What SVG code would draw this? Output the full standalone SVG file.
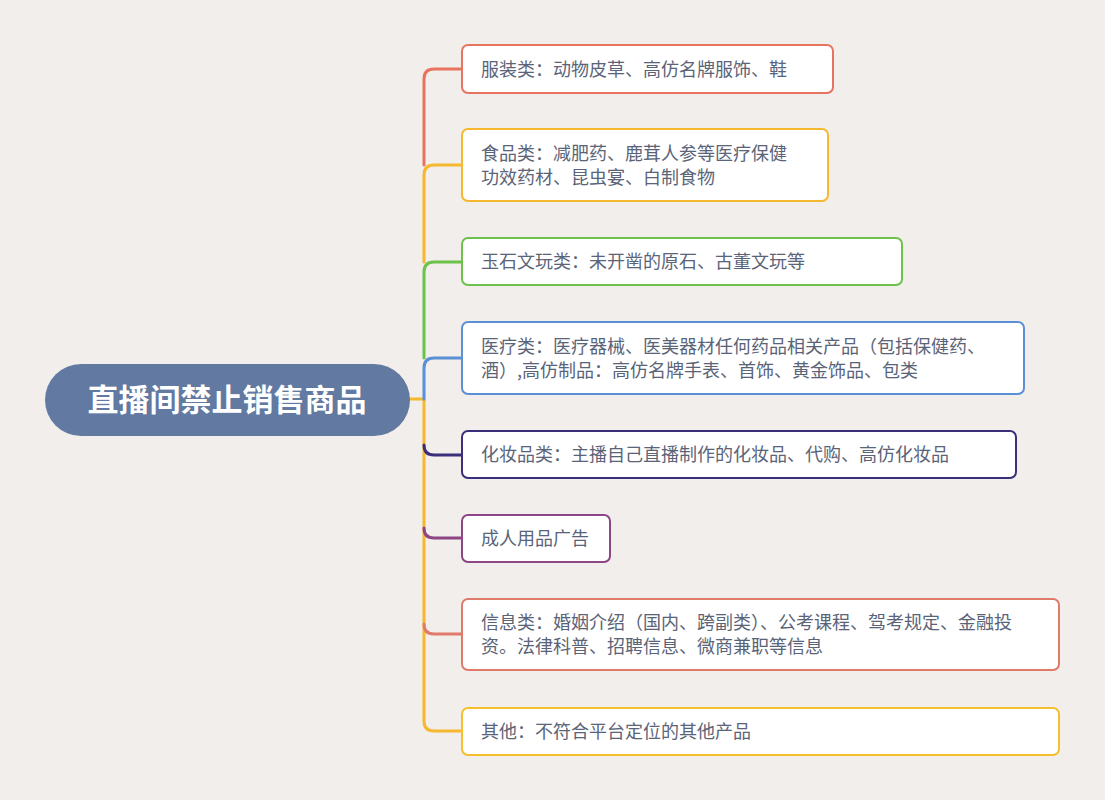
<svg xmlns="http://www.w3.org/2000/svg" width="1105" height="800" viewBox="0 0 1105 800">
<style>
.b{fill:#fff;stroke-width:2}
.t{font-family:"Noto Sans CJK SC",sans-serif;font-size:18px;fill:#5a6478}
.c{fill:none;stroke-width:3;stroke-linecap:round;stroke-linejoin:round}
</style>
<rect width="1105" height="800" fill="#f1eeeb"/>
<g id="connectors">
<path class="c" stroke="#f5b82e" d="M410 399H424V721Q424 731 434 731H462"/>
<path class="c" stroke="#e8735f" d="M424 165V79Q424 69 434 69H462"/>
<path class="c" stroke="#f5b82e" d="M424 262V175Q424 165 434 165H462"/>
<path class="c" stroke="#6cc24a" d="M424 358V272Q424 262 434 262H462"/>
<path class="c" stroke="#5b8fd6" d="M424 399V368Q424 358 434 358H462"/>
<path class="c" stroke="#3b2f7a" d="M424 445Q424 455 434 455H462"/>
<path class="c" stroke="#8e4585" d="M424 528Q424 538 434 538H462"/>
<path class="c" stroke="#e07a6a" d="M424 624Q424 634 434 634H462"/>
</g>
<g id="center"><rect x="45" y="364" width="365" height="72" rx="36" fill="#6279a1"/><text x="227" y="411" text-anchor="middle" font-family="Noto Sans CJK SC,sans-serif" font-size="31" font-weight="bold" fill="#fff">直播间禁止销售商品</text></g>
<g id="n1"><rect class="b" x="462" y="45" width="371" height="48" rx="6" stroke="#e8735f"/><text class="t" x="481" y="76">服装类：动物皮草、高仿名牌服饰、鞋</text></g>
<g id="n2"><rect class="b" x="462" y="129" width="366" height="72" rx="6" stroke="#f5b82e"/><text class="t" x="481" y="160">食品类：减肥药、鹿茸人参等医疗保健</text><text class="t" x="481" y="184">功效药材、昆虫宴、白制食物</text></g>
<g id="n3"><rect class="b" x="462" y="238" width="440" height="47" rx="6" stroke="#6cc24a"/><text class="t" x="481" y="268">玉石文玩类：未开凿的原石、古董文玩等</text></g>
<g id="n4"><rect class="b" x="462" y="322" width="562" height="72" rx="6" stroke="#5b8fd6"/><text class="t" x="481" y="353">医疗类：医疗器械、医美器材任何药品相关产品（包括保健药、</text><text class="t" x="481" y="377">酒）,高仿制品：高仿名牌手表、首饰、黄金饰品、包类</text></g>
<g id="n5"><rect class="b" x="462" y="431" width="554" height="47" rx="6" stroke="#3b2f7a"/><text class="t" x="481" y="461">化妆品类：主播自己直播制作的化妆品、代购、高仿化妆品</text></g>
<g id="n6"><rect class="b" x="462" y="515" width="148" height="47" rx="6" stroke="#8e4585"/><text class="t" x="481" y="545">成人用品广告</text></g>
<g id="n7"><rect class="b" x="462" y="599" width="597" height="71" rx="6" stroke="#e07a6a"/><text class="t" x="481" y="629">信息类：婚姻介绍（国内、跨副类）、公考课程、驾考规定、金融投</text><text class="t" x="481" y="653">资。法律科普、招聘信息、微商兼职等信息</text></g>
<g id="n8"><rect class="b" x="462" y="708" width="597" height="47" rx="6" stroke="#f5c02e"/><text class="t" x="481" y="738">其他：不符合平台定位的其他产品</text></g>
</svg>
